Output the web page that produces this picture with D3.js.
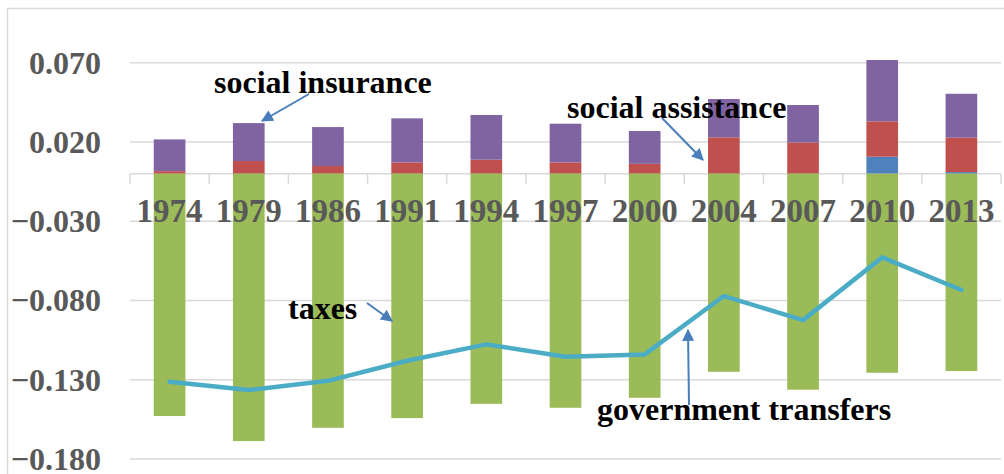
<!DOCTYPE html>
<html><head><meta charset="utf-8">
<script src="https://cdn.jsdelivr.net/npm/d3@7"></script>
<style>html,body{margin:0;padding:0;background:#fff;}svg{display:block;}</style>
</head><body>
<svg id="c" width="1004" height="474"></svg>
<script>
const years = ["1974","1979","1986","1991","1994","1997","2000","2004","2007","2010","2013"];
const blueSeries   = [0, 0, 0, 0, 0, 0, 0, 0, 0, 0.0107, 0.0010];
const redSeries    = [0.0016, 0.0080, 0.0048, 0.0071, 0.0088, 0.0071, 0.0062, 0.0229, 0.0197, 0.0223, 0.0217];
const purpleSeries = [0.0200, 0.0239, 0.0246, 0.0278, 0.0282, 0.0244, 0.0207, 0.0242, 0.0236, 0.0387, 0.0277];
const taxes        = [-0.1529, -0.1687, -0.1603, -0.1542, -0.1452, -0.1477, -0.1414, -0.1250, -0.1363, -0.1256, -0.1245];
const lineSeries   = [-0.1313, -0.1365, -0.1307, -0.1180, -0.1077, -0.1155, -0.1140, -0.0772, -0.0924, -0.0528, -0.0734];
const yTicks = [0.07, 0.02, -0.03, -0.08, -0.13, -0.18];

const svg = d3.select("#c");
const xb = d3.scaleBand().domain(years).range([130, 1001]);
const y = d3.scaleLinear().domain([-0.18, 0.07]).range([459, 62.7]);

// border
svg.append("rect").attr("x",7.5).attr("y",8.5).attr("width",1010).attr("height",480)
  .attr("fill","none").attr("stroke","#d9d9d9").attr("stroke-width",1.5);

// gridlines
svg.append("g").selectAll("line").data(yTicks).join("line")
  .attr("x1",130).attr("x2",1001).attr("y1",d=>y(d)).attr("y2",d=>y(d))
  .attr("stroke","#d9d9d9").attr("stroke-width",1.5);

// y labels
svg.append("g").selectAll("text").data(yTicks).join("text")
  .attr("x",101).attr("y",d=>y(d)).attr("dy","0.34em").attr("text-anchor","end")
  .attr("font-family","'Liberation Serif','Times New Roman',serif").attr("font-weight","bold")
  .attr("font-size",32).attr("fill","#595959").text(d=>d3.format(".3f")(d));

// zero axis with ticks
const ax = svg.append("g");
ax.append("line").attr("x1",130).attr("x2",1001).attr("y1",y(0)).attr("y2",y(0))
  .attr("stroke","#d9d9d9").attr("stroke-width",1.5);
const bounds = years.map(d=>xb(d)).concat([xb(years[years.length-1])+xb.bandwidth()]);
ax.selectAll("line.t").data(bounds).join("line").attr("class","t")
  .attr("x1",d=>d).attr("x2",d=>d).attr("y1",y(0)).attr("y2",y(0)+10)
  .attr("stroke","#d9d9d9").attr("stroke-width",1.5);

// stacked bars
const rows = years.map((yr,i)=>({yr, blue:blueSeries[i], red:redSeries[i], purple:purpleSeries[i]}));
const stack = d3.stack().keys(["blue","red","purple"])(rows);
const colors = {blue:"#4f81bd", red:"#c0504d", purple:"#8064a2"};
const bw = xb.bandwidth()*0.4;
const bx = d => xb(d) + (xb.bandwidth()-bw)/2;
svg.append("g").selectAll("g").data(stack).join("g").attr("fill",s=>colors[s.key])
  .selectAll("rect").data(s=>s).join("rect")
  .attr("x",d=>bx(d.data.yr)).attr("width",bw)
  .attr("y",d=>y(d[1])).attr("height",d=>Math.max(0,y(d[0])-y(d[1])));
svg.append("g").selectAll("rect").data(years).join("rect")
  .attr("fill","#9bbb59")
  .attr("x",d=>bx(d)).attr("width",bw)
  .attr("y",y(0)).attr("height",(d,i)=>y(taxes[i])-y(0));

// category labels
svg.append("g").selectAll("text").data(years).join("text")
  .attr("x",d=>xb(d)+xb.bandwidth()/2).attr("y",222).attr("text-anchor","middle")
  .attr("font-family","'Liberation Serif','Times New Roman',serif").attr("font-weight","bold")
  .attr("font-size",33).attr("fill","#595959").text(d=>d);

// line
const line = d3.line().x((d,i)=>xb(years[i])+xb.bandwidth()/2).y(d=>y(d));
svg.append("path").datum(lineSeries).attr("d",line).attr("fill","none")
  .attr("stroke","#4bacc6").attr("stroke-width",4.5).attr("stroke-linecap","round").attr("stroke-linejoin","round");

// annotations
const defs = svg.append("defs");
defs.append("marker").attr("id","ah").attr("viewBox","0 0 10 10").attr("refX",9).attr("refY",5)
  .attr("markerWidth",7).attr("markerHeight",6).attr("orient","auto").attr("markerUnits","strokeWidth")
  .append("path").attr("d","M0,0 L10,5 L0,10 z").attr("fill","#4a7ebb");
const annots = [
  {t:"social insurance", x:214, y:93, ax1:309, ay1:94, ax2:262, ay2:121},
  {t:"social assistance", x:567, y:118, ax1:662, ay1:118, ax2:703, ay2:160},
  {t:"taxes", x:288, y:319, ax1:367, ay1:303, ax2:392, ay2:321},
  {t:"government transfers", x:597, y:420, ax1:689, ay1:405, ax2:688, ay2:330}
];
const ag = svg.append("g");
ag.selectAll("line").data(annots).join("line")
  .attr("x1",d=>d.ax1).attr("y1",d=>d.ay1).attr("x2",d=>d.ax2).attr("y2",d=>d.ay2)
  .attr("stroke","#4a7ebb").attr("stroke-width",2).attr("marker-end","url(#ah)");
ag.selectAll("text").data(annots).join("text")
  .attr("x",d=>d.x).attr("y",d=>d.y)
  .attr("font-family","'Liberation Serif','Times New Roman',serif").attr("font-weight","bold")
  .attr("font-size",32).attr("fill","#000").text(d=>d.t);
</script>
</body></html>
